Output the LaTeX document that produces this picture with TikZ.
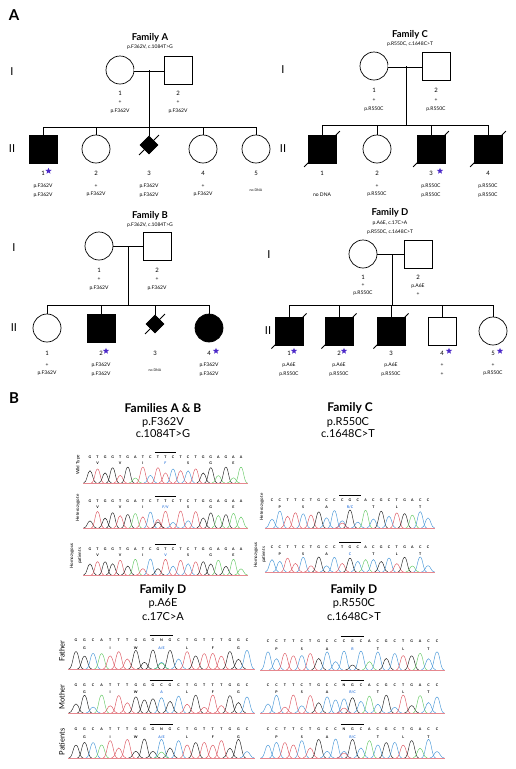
\documentclass[tikz,border=0pt]{standalone}
\usepackage{fontspec}
\setmainfont{Lato}
\usetikzlibrary{shapes.geometric,positioning}

\definecolor{starblue}{RGB}{75,40,200}
\definecolor{mutblue}{RGB}{50,120,220}
\definecolor{trA}{RGB}{100,200,100}
\definecolor{trC}{RGB}{70,150,215}
\definecolor{trG}{RGB}{30,30,30}
\definecolor{trT}{RGB}{220,85,95}
\colorlet{trN}{trC}

\newcommand{\fs}[1]{\fontsize{#1}{#1}\selectfont}

% one trace peak: x, baseline, half width, height, options
\newcommand{\pk}[5]{\draw[#5] (#1-#3,#2) .. controls (#1-0.45*#3,#2) and (#1-0.4*#3,#2-#4) .. (#1,#2-#4) .. controls (#1+0.4*#3,#2-#4) and (#1+0.45*#3,#2) .. (#1+#3,#2);}

% bases + trace: name, x0, y, dx, bases, baseline drop
\newcommand{\chrom}[6]{%
  \foreach \b [count=\i] in {#5} {
    \pgfmathsetmacro\xx{#2+(\i-1)*#4}
    \pgfmathsetmacro\hh{5+(#6-15)*abs(sin(\i*83+#3*7))}
    \node[nt] (#1s\i) at (\xx,#3) {\b};
    \pk{\xx}{#3+#6}{0.85*#4}{\hh}{peak,draw=tr\b}
  }
  \draw[overl] ({#2+8.6*#4},#3-4.5) -- ({#2+11.4*#4},#3-4.5);
  \draw[basel] ({#2-0.9*#4},#3+#6) -- ({#2+20.9*#4},#3+#6);
}

% amino acids: name, x0, y, dx, residues
\newcommand{\aaline}[5]{%
  \foreach \a [count=\j] in {#5} {
    \pgfmathsetmacro\xx{#2+(3*\j-2)*#4}
    \node[aa] (#1a\j) at (\xx,#3) {\a};
  }
}

\newcommand{\pedlab}[5]{\node[num] (#1n) at (#1 |- 0,#4) {#2}; \node[gt] (#1g) at (#1 |- 0,#5) {#3};}
\newcommand{\deceased}[2]{\draw[rel,shorten <=-#2pt,shorten >=-#2pt] (#1.south west) -- (#1.north east);}
\newcommand{\starby}[2]{\node[starm] (#1s) at ([shift={(#2pt,2pt)}]#1n.center) {};}

\begin{document}
\begin{tikzpicture}[x=1pt,y=-1pt,
  fem/.style={circle,draw,line width=0.7pt,minimum size=28pt,inner sep=0pt},
  mal/.style={rectangle,draw,line width=0.7pt,minimum size=28pt,inner sep=0pt},
  unk/.style={diamond,draw,fill,line width=0.7pt,minimum size=18pt,inner sep=0pt},
  aff/.style={fill=black},
  rel/.style={line width=0.8pt},
  gen/.style={font=\fs{11}},
  fam/.style={font=\fs{9.5}\bfseries},
  mut/.style={font=\fs{5}},
  num/.style={font=\fs{6},inner sep=0pt},
  gt/.style={font=\fontsize{5}{8.5}\selectfont,align=center,inner sep=0pt},
  starm/.style={star,star points=5,star point ratio=2.3,fill=starblue,minimum size=6.5pt,inner sep=0pt},
  panel/.style={font=\fs{15}\bfseries},
  btitle/.style={font=\fs{12}\bfseries},
  bmut/.style={font=\fs{11}},
  nt/.style={font=\fs{3.6}\bfseries,inner sep=0pt},
  aa/.style={font=\fs{3.6}\bfseries,inner sep=0pt},
  rowlab/.style={font=\fontsize{4.5}{8}\selectfont,rotate=90,align=center,inner sep=0pt},
  bigrow/.style={font=\fs{7.5},rotate=90,inner sep=0pt},
  peak/.style={line width=0.45pt},
  overl/.style={line width=0.4pt},
  basel/.style={line width=0.5pt,draw=trT!70}]
\useasboundingbox (0,0) rectangle (516,769);

\node[panel] (pA) at (14,15) {A};
\node[panel] (pB) at (14,398) {B};

% Family A
\node[fam] (fA) at (150,38) {Family A};
\node[mut] (fAm) at (150,47) {p.F362V, c.1084T>G};
\node[gen] (aI) at (12,72) {I};
\node[gen] (aII) at (12,149) {II};
\node[fem] (aI1) at (120,70) {};
\node[mal] (aI2) at (178,70) {};
\draw[rel,double distance=1.4pt] (aI1) -- (aI2);
\coordinate (am) at (149,70);
\coordinate (as) at (149,127);
\draw[rel] (am) -- (as);
\node[mal,aff] (aII1) at (43,149) {};
\node[fem] (aII2) at (96,149) {};
\node[unk] (aII3) at (149,145) {};
\node[fem] (aII4) at (203,149) {};
\node[fem] (aII5) at (256,149) {};
\foreach \n in {aII1,aII2,aII3,aII4,aII5} \draw[rel] (\n.north) -- (\n.north |- as);
\draw[rel] (aII1.north |- as) -- (aII5.north |- as);
\deceased{aII3}{7.5}
\pedlab{aI1}{1}{+\\p.F362V}{93}{107}
\pedlab{aI2}{2}{+\\p.F362V}{93}{107}
\pedlab{aII1}{1}{p.F362V\\p.F362V}{173}{190.5}
\pedlab{aII2}{2}{+\\p.F362V}{173}{190.5}
\pedlab{aII3}{3}{p.F362V\\p.F362V}{173}{190.5}
\pedlab{aII4}{4}{+\\p.F362V}{173}{190.5}
\pedlab{aII5}{5}{{\fs{3.5}no DNA}}{173}{190}
\starby{aII1}{5.5}

% Family C
\node[fam] (fC) at (410,35) {Family C};
\node[mut] (fCm) at (410,44) {p.R550C, c.1648C>T};
\node[gen] (cI) at (283,70) {I};
\node[gen] (cII) at (283,149) {II};
\node[fem] (cI1) at (374,66) {};
\node[mal] (cI2) at (436,66) {};
\draw[rel,double distance=1.4pt] (cI1) -- (cI2);
\coordinate (cm) at (406,66);
\coordinate (cs) at (406,125);
\draw[rel] (cm) -- (cs);
\node[mal,aff] (cII1) at (322,149) {};
\node[fem] (cII2) at (377,149) {};
\node[mal,aff] (cII3) at (431,149) {};
\node[mal,aff] (cII4) at (488,149) {};
\foreach \n in {cII1,cII2,cII3,cII4} \draw[rel] (\n.north) -- (\n.north |- cs);
\draw[rel] (cII1.north |- cs) -- (cII4.north |- cs);
\deceased{cII1}{5}
\deceased{cII3}{5}
\deceased{cII4}{5}
\pedlab{cI1}{1}{+\\p.R550C}{90}{105}
\pedlab{cI2}{2}{+\\p.R550C}{90}{105}
\pedlab{cII1}{1}{\phantom{+}\\no DNA}{173}{190.5}
\pedlab{cII2}{2}{+\\p.R550C}{173}{190.5}
\pedlab{cII3}{3}{p.R550C\\p.R550C}{173}{190.5}
\pedlab{cII4}{4}{p.R550C\\p.R550C}{173}{190.5}
\starby{cII3}{9}

% Family B
\node[fam] (fB) at (150,216) {Family B};
\node[mut] (fBm) at (150,225) {p.F362V, c.1084T>G};
\node[gen] (bI) at (14,248) {I};
\node[gen] (bII) at (14,328) {II};
\node[fem] (bI1) at (99,246) {};
\node[mal] (bI2) at (157,246) {};
\draw[rel] (bI1) -- (bI2);
\coordinate (bm) at (128,246);
\coordinate (bs) at (128,305);
\draw[rel] (bm) -- (bs);
\node[fem] (bII1) at (47,328) {};
\node[mal,aff] (bII2) at (101,328) {};
\node[unk] (bII3) at (155,324) {};
\node[fem,aff] (bII4) at (209,328) {};
\foreach \n in {bII1,bII2,bII3,bII4} \draw[rel] (\n.north) -- (\n.north |- bs);
\draw[rel] (bII1.north |- bs) -- (bII4.north |- bs);
\deceased{bII3}{7.5}
\pedlab{bI1}{1}{+\\p.F362V}{270}{284}
\pedlab{bI2}{2}{+\\p.F362V}{270}{284}
\pedlab{bII1}{1}{+\\p.F362V}{353}{369.5}
\pedlab{bII2}{2}{p.F362V\\p.F362V}{353}{369.5}
\pedlab{bII3}{3}{{\fs{3.5}no DNA}}{353}{370}
\pedlab{bII4}{4}{p.F362V\\p.F362V}{353}{369.5}
\starby{bII2}{5}
\starby{bII4}{7}

% Family D
\node[fam] (fD) at (390,213) {Family D};
\node[mut] (fDm) at (390,223) {p.A6E, c.17C>A};
\node[mut] (fDn) at (390,232) {p.R550C, c.1648C>T};
\node[gen] (dI) at (269,255) {I};
\node[gen] (dII) at (268,331) {II};
\node[fem] (dI1) at (363,254) {};
\node[mal] (dI2) at (418,254) {};
\draw[rel] (dI1) -- (dI2);
\coordinate (dm) at (392,254);
\coordinate (ds) at (392,305);
\draw[rel] (dm) -- (ds);
\node[mal,aff] (dII1) at (289,331) {};
\node[mal,aff] (dII2) at (339,331) {};
\node[mal,aff] (dII3) at (391,331) {};
\node[mal] (dII4) at (442,331) {};
\node[fem] (dII5) at (493,331) {};
\foreach \n in {dII1,dII2,dII3,dII4,dII5} \draw[rel] (\n.north) -- (\n.north |- ds);
\draw[rel] (dII1.north |- ds) -- (dII5.north |- ds);
\deceased{dII1}{4.5}
\deceased{dII2}{4.5}
\deceased{dII3}{4.5}
\pedlab{dI1}{1}{+\\p.R550C}{277}{289.5}
\pedlab{dI2}{2}{p.A6E\\+}{277}{289.5}
\pedlab{dII1}{1}{p.A6E\\p.R550C}{353}{369.5}
\pedlab{dII2}{2}{p.A6E\\p.R550C}{353}{369.5}
\pedlab{dII3}{3}{p.A6E\\p.R550C}{353}{369.5}
\pedlab{dII4}{4}{+\\+}{353}{369.5}
\pedlab{dII5}{5}{+\\p.R550C}{353}{369.5}
\starby{dII1}{5}
\starby{dII2}{5}
\starby{dII4}{7}
\starby{dII5}{7}

% B: Families A & B
\node[btitle] (tAB) at (163,408) {Families A \& B};
\node[bmut] (tABp) at (163,422) {p.F362V};
\node[bmut] (tABc) at (163,434) {c.1084T>G};
\node[rowlab] (lwt) at (78,465) {Wild Type};
\chrom{abw}{90}{457}{7.55}{G,T,G,G,T,G,A,T,C,T,T,C,T,C,T,G,G,A,G,A,A}{26}
\aaline{abw}{90}{463}{7.55}{V,V,I,{\textcolor{mutblue}{F}},S,G,E}
\node[rowlab] (lhet) at (78,508) {Heterozygote};
\chrom{abh}{90}{501}{7.55}{G,T,G,G,T,G,A,T,C,T,T,C,T,C,T,G,G,A,G,A,A}{27}
\aaline{abh}{90}{507}{7.55}{V,V,I,{\textcolor{mutblue}{F/V}},S,G,E}
\pk{90+9*7.55}{528}{0.85*7.55}{6}{peak,draw=trG}
\node[rowlab] (lhom) at (76,556) {Homozygous\\patients};
\chrom{abo}{90}{549}{7.55}{G,T,G,G,T,G,A,T,C,G,T,C,T,C,T,G,G,A,G,A,A}{26}
\aaline{abo}{90}{555}{7.55}{V,V,I,{\textcolor{mutblue}{V}},S,G,E}

% B: Family C
\node[btitle] (tC) at (350,408) {Family C};
\node[bmut] (tCp) at (348,422) {p.R550C};
\node[bmut] (tCc) at (348,434) {c.1648C>T};
\node[rowlab] (chet) at (262,507) {Heterozygote};
\chrom{ch}{272}{500}{7.8}{C,C,T,T,C,T,G,C,C,C,G,C,A,C,G,C,T,G,A,C,C}{28}
\aaline{ch}{272}{507}{7.8}{P,S,A,{\textcolor{mutblue}{R/C}},T,L,T}
\pk{272+9*7.8}{528}{0.85*7.8}{5}{peak,draw=trT}
\node[rowlab] (chom) at (260,555) {Homozygous\\patients};
\chrom{co}{272}{547}{7.8}{C,C,T,T,C,T,G,C,C,T,G,C,A,C,G,C,T,G,A,C,C}{25}
\aaline{co}{272}{554}{7.8}{P,S,A,{\textcolor{mutblue}{C}},T,L,T}

% B: Family D, p.A6E
\node[btitle] (tD) at (163,590) {Family D};
\node[bmut] (tDp) at (163,603) {p.A6E};
\node[bmut] (tDc) at (163,617) {c.17C>A};
\node[bigrow] (lfa) at (62,651) {Father};
\chrom{df}{76}{640}{8.55}{G,G,C,A,T,T,T,G,G,G,N,G,C,T,G,T,T,T,G,G,C}{29}
\aaline{df}{76}{648}{8.55}{G,I,W,{\textcolor{mutblue}{A/E}},L,F,G}
\pk{76+10*8.55}{669}{0.85*8.55}{6}{peak,draw=trA}
\node[bigrow] (lmo) at (62,697) {Mother};
\chrom{dm}{76}{685}{8.55}{G,G,C,A,T,T,T,G,G,G,C,G,C,T,G,T,T,T,G,G,C}{28}
\aaline{dm}{76}{692}{8.55}{G,I,W,{\textcolor{mutblue}{A}},L,F,G}
\node[bigrow] (lpa) at (62,742) {Patients};
\chrom{dp}{76}{729}{8.55}{G,G,C,A,T,T,T,G,G,G,N,G,C,T,G,T,T,T,G,G,C}{29}
\aaline{dp}{76}{737}{8.55}{G,I,W,{\textcolor{mutblue}{A/E}},L,F,G}
\pk{76+10*8.55}{758}{0.85*8.55}{6}{peak,draw=trA}

% B: Family D, p.R550C
\node[btitle] (tE) at (354,590) {Family D};
\node[bmut] (tEp) at (354,603) {p.R550C};
\node[bmut] (tEc) at (354,617) {c.1648C>T};
\chrom{ef}{268}{641}{8.45}{C,C,T,T,C,T,G,C,C,C,G,C,A,C,G,C,T,G,A,C,C}{29}
\aaline{ef}{268}{649}{8.45}{P,S,A,{\textcolor{mutblue}{R}},T,L,T}
\chrom{em}{268}{685}{8.45}{C,C,T,T,C,T,G,C,C,N,G,C,A,C,G,C,T,G,A,C,C}{28}
\aaline{em}{268}{692}{8.45}{P,S,A,{\textcolor{mutblue}{R/C}},T,L,T}
\pk{268+9*8.45}{713}{0.85*8.45}{5}{peak,draw=trT}
\chrom{ep}{268}{729}{8.45}{C,C,T,T,C,T,G,C,C,N,G,C,A,C,G,C,T,G,A,C,C}{29}
\aaline{ep}{268}{737}{8.45}{P,S,A,{\textcolor{mutblue}{R/C}},T,L,T}
\pk{268+9*8.45}{758}{0.85*8.45}{5}{peak,draw=trT}
\end{tikzpicture}
\end{document}
